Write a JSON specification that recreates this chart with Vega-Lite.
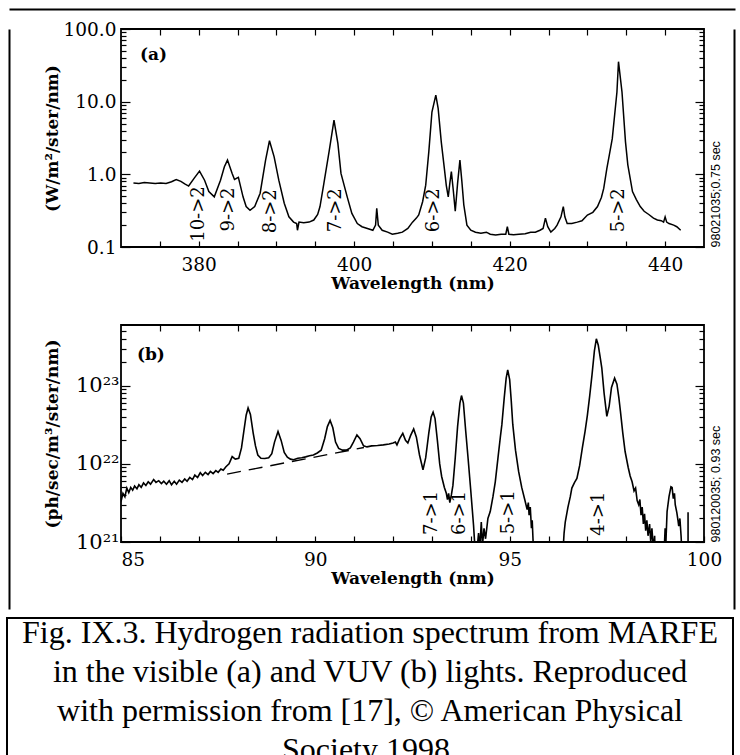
{
  "$schema": "https://vega.github.io/schema/vega-lite/v6.json",
  "background": "white",
  "padding": {"left": 6, "top": 8, "right": 0, "bottom": 0},
  "config": {
    "view": {"stroke": "black", "strokeWidth": 1.8},
    "axis": {"domain": false, "grid": false, "tickColor": "black", "tickWidth": 1.2, "labelColor": "black", "titleColor": "black", "labelOverlap": false}
  },
  "datasets": {
    "a": [
      {"wl": 371.6, "v": 0.76}, {"wl": 372.3, "v": 0.75}, {"wl": 373.0, "v": 0.77}, {"wl": 373.7, "v": 0.76}, {"wl": 374.4, "v": 0.75},
      {"wl": 375.1, "v": 0.76}, {"wl": 375.8, "v": 0.75}, {"wl": 376.5, "v": 0.79}, {"wl": 377.1, "v": 0.85}, {"wl": 377.7, "v": 0.80},
      {"wl": 378.2, "v": 0.74}, {"wl": 378.7, "v": 0.69}, {"wl": 379.4, "v": 0.88}, {"wl": 380.1, "v": 1.11}, {"wl": 380.75, "v": 0.83},
      {"wl": 381.3, "v": 0.58}, {"wl": 382.0, "v": 0.49}, {"wl": 382.8, "v": 0.83}, {"wl": 383.3, "v": 1.27}, {"wl": 383.7, "v": 1.57},
      {"wl": 384.3, "v": 1.03}, {"wl": 384.6, "v": 0.85}, {"wl": 385.1, "v": 0.91}, {"wl": 385.7, "v": 0.49}, {"wl": 386.1, "v": 0.36},
      {"wl": 386.6, "v": 0.32}, {"wl": 387.2, "v": 0.36}, {"wl": 387.9, "v": 0.55}, {"wl": 388.6, "v": 1.57}, {"wl": 389.1, "v": 2.9},
      {"wl": 389.7, "v": 1.74}, {"wl": 390.3, "v": 0.83}, {"wl": 391.0, "v": 0.40}, {"wl": 391.6, "v": 0.26}, {"wl": 392.2, "v": 0.22},
      {"wl": 392.6, "v": 0.21}, {"wl": 392.7, "v": 0.17}, {"wl": 392.9, "v": 0.22}, {"wl": 393.5, "v": 0.216}, {"wl": 394.2, "v": 0.22},
      {"wl": 394.8, "v": 0.235}, {"wl": 395.3, "v": 0.28}, {"wl": 395.6, "v": 0.36}, {"wl": 396.1, "v": 0.75}, {"wl": 396.8, "v": 2.16},
      {"wl": 397.4, "v": 5.57}, {"wl": 397.9, "v": 2.67}, {"wl": 398.3, "v": 1.03}, {"wl": 399.1, "v": 0.49}, {"wl": 399.7, "v": 0.29},
      {"wl": 400.4, "v": 0.21}, {"wl": 401.0, "v": 0.19}, {"wl": 401.7, "v": 0.18}, {"wl": 402.4, "v": 0.17}, {"wl": 402.75, "v": 0.20},
      {"wl": 402.9, "v": 0.34}, {"wl": 403.1, "v": 0.20}, {"wl": 403.6, "v": 0.17}, {"wl": 404.3, "v": 0.16}, {"wl": 404.9, "v": 0.15},
      {"wl": 405.6, "v": 0.155}, {"wl": 406.2, "v": 0.16}, {"wl": 406.9, "v": 0.18}, {"wl": 407.5, "v": 0.22}, {"wl": 408.0, "v": 0.25},
      {"wl": 408.3, "v": 0.276}, {"wl": 408.8, "v": 0.42}, {"wl": 409.2, "v": 0.71}, {"wl": 409.6, "v": 2.05}, {"wl": 410.0, "v": 7.2},
      {"wl": 410.5, "v": 12.3}, {"wl": 410.8, "v": 8.1}, {"wl": 411.2, "v": 2.8}, {"wl": 411.6, "v": 1.2}, {"wl": 411.85, "v": 0.7},
      {"wl": 412.1, "v": 0.49}, {"wl": 412.3, "v": 0.75}, {"wl": 412.5, "v": 1.09}, {"wl": 412.75, "v": 0.6}, {"wl": 413.0, "v": 0.31},
      {"wl": 413.3, "v": 0.75}, {"wl": 413.6, "v": 1.57}, {"wl": 413.85, "v": 0.8}, {"wl": 414.1, "v": 0.38}, {"wl": 414.5, "v": 0.2},
      {"wl": 415.0, "v": 0.17}, {"wl": 415.6, "v": 0.16}, {"wl": 416.3, "v": 0.155}, {"wl": 417.0, "v": 0.16}, {"wl": 417.5, "v": 0.15},
      {"wl": 418.2, "v": 0.146}, {"wl": 418.9, "v": 0.15}, {"wl": 419.5, "v": 0.15}, {"wl": 419.7, "v": 0.19}, {"wl": 419.9, "v": 0.15},
      {"wl": 420.5, "v": 0.148}, {"wl": 421.2, "v": 0.15}, {"wl": 422.0, "v": 0.152}, {"wl": 422.7, "v": 0.16}, {"wl": 423.3, "v": 0.16},
      {"wl": 423.9, "v": 0.17}, {"wl": 424.3, "v": 0.18}, {"wl": 424.6, "v": 0.25}, {"wl": 424.9, "v": 0.19}, {"wl": 425.3, "v": 0.16},
      {"wl": 425.8, "v": 0.18}, {"wl": 426.1, "v": 0.20}, {"wl": 426.6, "v": 0.26}, {"wl": 426.9, "v": 0.36}, {"wl": 427.1, "v": 0.26},
      {"wl": 427.4, "v": 0.21}, {"wl": 428.0, "v": 0.21}, {"wl": 428.7, "v": 0.22}, {"wl": 429.3, "v": 0.23}, {"wl": 430.0, "v": 0.275},
      {"wl": 430.7, "v": 0.30}, {"wl": 431.3, "v": 0.36}, {"wl": 431.8, "v": 0.48}, {"wl": 432.1, "v": 0.64}, {"wl": 432.5, "v": 1.2},
      {"wl": 432.8, "v": 1.8}, {"wl": 433.2, "v": 3.1}, {"wl": 433.8, "v": 13.6}, {"wl": 434.0, "v": 35.5}, {"wl": 434.45, "v": 13.6},
      {"wl": 434.9, "v": 2.8}, {"wl": 435.2, "v": 1.35}, {"wl": 435.8, "v": 0.58}, {"wl": 436.3, "v": 0.45}, {"wl": 436.8, "v": 0.36},
      {"wl": 437.3, "v": 0.31}, {"wl": 437.9, "v": 0.28}, {"wl": 438.5, "v": 0.25}, {"wl": 439.0, "v": 0.235}, {"wl": 439.5, "v": 0.23},
      {"wl": 439.8, "v": 0.22}, {"wl": 440.0, "v": 0.26}, {"wl": 440.2, "v": 0.22}, {"wl": 440.5, "v": 0.21}, {"wl": 441.1, "v": 0.20},
      {"wl": 441.5, "v": 0.19}, {"wl": 442.0, "v": 0.17}
    ],
    "labelsA": [
      {"wl": 380.0, "v": 0.284, "label": "10->2"},
      {"wl": 383.9, "v": 0.328, "label": "9->2"},
      {"wl": 389.3, "v": 0.31, "label": "8->2"},
      {"wl": 397.7, "v": 0.32, "label": "7->2"},
      {"wl": 410.3, "v": 0.32, "label": "6->2"},
      {"wl": 434.1, "v": 0.32, "label": "5->2"}
    ],
    "tagA": [{"wl": 372.45, "v": 43.8, "label": "(a)"}],
    "frame": [{"f": 0}],
    "b": [
      {"wl": 85.00, "v": 3.3e21}, {"wl": 85.05, "v": 4.2e21}, {"wl": 85.10, "v": 3.8e21}, {"wl": 85.15, "v": 4.9e21}, {"wl": 85.20, "v": 4.3e21},
      {"wl": 85.25, "v": 5.0e21}, {"wl": 85.30, "v": 4.6e21}, {"wl": 85.35, "v": 5.2e21}, {"wl": 85.41, "v": 4.8e21}, {"wl": 85.46, "v": 5.4e21},
      {"wl": 85.52, "v": 5.0e21}, {"wl": 85.58, "v": 5.7e21}, {"wl": 85.64, "v": 5.3e21}, {"wl": 85.70, "v": 5.9e21}, {"wl": 85.76, "v": 5.5e21},
      {"wl": 85.84, "v": 6.3e21}, {"wl": 85.90, "v": 5.8e21}, {"wl": 85.97, "v": 6.1e21}, {"wl": 86.04, "v": 5.6e21}, {"wl": 86.10, "v": 6.0e21},
      {"wl": 86.17, "v": 5.5e21}, {"wl": 86.24, "v": 6.1e21}, {"wl": 86.30, "v": 5.4e21}, {"wl": 86.37, "v": 6.0e21}, {"wl": 86.43, "v": 5.5e21},
      {"wl": 86.50, "v": 6.2e21}, {"wl": 86.57, "v": 5.8e21}, {"wl": 86.64, "v": 6.4e21}, {"wl": 86.70, "v": 6.0e21}, {"wl": 86.77, "v": 6.7e21},
      {"wl": 86.84, "v": 6.3e21}, {"wl": 86.90, "v": 7.2e21}, {"wl": 86.97, "v": 6.7e21}, {"wl": 87.04, "v": 7.7e21}, {"wl": 87.10, "v": 7.1e21},
      {"wl": 87.17, "v": 7.8e21}, {"wl": 87.24, "v": 7.3e21}, {"wl": 87.30, "v": 8.0e21}, {"wl": 87.37, "v": 7.5e21}, {"wl": 87.44, "v": 8.2e21},
      {"wl": 87.50, "v": 7.8e21}, {"wl": 87.57, "v": 8.6e21}, {"wl": 87.63, "v": 8.3e21}, {"wl": 87.70, "v": 9.2e21}, {"wl": 87.78, "v": 1.0e22},
      {"wl": 87.86, "v": 1.24e22}, {"wl": 87.94, "v": 1.15e22}, {"wl": 88.03, "v": 1.18e22}, {"wl": 88.10, "v": 1.6e22}, {"wl": 88.16, "v": 2.6e22},
      {"wl": 88.22, "v": 4.2e22}, {"wl": 88.27, "v": 5.2e22}, {"wl": 88.33, "v": 4.3e22}, {"wl": 88.40, "v": 2.5e22}, {"wl": 88.46, "v": 1.7e22},
      {"wl": 88.52, "v": 1.3e22}, {"wl": 88.60, "v": 1.18e22}, {"wl": 88.70, "v": 1.17e22}, {"wl": 88.80, "v": 1.2e22}, {"wl": 88.88, "v": 1.35e22},
      {"wl": 88.95, "v": 1.9e22}, {"wl": 89.04, "v": 2.6e22}, {"wl": 89.12, "v": 2.0e22}, {"wl": 89.20, "v": 1.4e22}, {"wl": 89.28, "v": 1.22e22},
      {"wl": 89.36, "v": 1.15e22}, {"wl": 89.44, "v": 1.13e22}, {"wl": 89.55, "v": 1.18e22}, {"wl": 89.65, "v": 1.2e22}, {"wl": 89.75, "v": 1.23e22},
      {"wl": 89.85, "v": 1.27e22}, {"wl": 89.95, "v": 1.3e22}, {"wl": 90.05, "v": 1.38e22}, {"wl": 90.15, "v": 1.5e22}, {"wl": 90.24, "v": 2.1e22},
      {"wl": 90.31, "v": 3.0e22}, {"wl": 90.38, "v": 3.6e22}, {"wl": 90.45, "v": 2.9e22}, {"wl": 90.52, "v": 1.9e22}, {"wl": 90.60, "v": 1.58e22},
      {"wl": 90.70, "v": 1.5e22}, {"wl": 90.80, "v": 1.5e22}, {"wl": 90.90, "v": 1.6e22}, {"wl": 90.98, "v": 1.9e22}, {"wl": 91.07, "v": 2.35e22},
      {"wl": 91.15, "v": 2.1e22}, {"wl": 91.24, "v": 1.7e22}, {"wl": 91.33, "v": 1.65e22}, {"wl": 91.45, "v": 1.7e22}, {"wl": 91.60, "v": 1.72e22},
      {"wl": 91.75, "v": 1.75e22}, {"wl": 91.90, "v": 1.8e22}, {"wl": 92.00, "v": 1.85e22}, {"wl": 92.06, "v": 1.9e22}, {"wl": 92.10, "v": 1.75e22},
      {"wl": 92.17, "v": 2.1e22}, {"wl": 92.25, "v": 2.46e22}, {"wl": 92.32, "v": 2.0e22}, {"wl": 92.38, "v": 1.85e22}, {"wl": 92.45, "v": 2.3e22},
      {"wl": 92.53, "v": 2.8e22}, {"wl": 92.60, "v": 2.2e22}, {"wl": 92.68, "v": 1.3e22}, {"wl": 92.77, "v": 8.4e21}, {"wl": 92.84, "v": 1.2e22},
      {"wl": 92.92, "v": 2.5e22}, {"wl": 92.98, "v": 4.0e22}, {"wl": 93.03, "v": 4.6e22}, {"wl": 93.08, "v": 3.8e22}, {"wl": 93.14, "v": 2.0e22},
      {"wl": 93.20, "v": 1.0e22}, {"wl": 93.25, "v": 6.9e21}, {"wl": 93.32, "v": 5.0e21}, {"wl": 93.37, "v": 4.2e21}, {"wl": 93.40, "v": 3.5e21},
      {"wl": 93.43, "v": 4.2e21}, {"wl": 93.46, "v": 3.2e21}, {"wl": 93.50, "v": 4.0e21}, {"wl": 93.54, "v": 5.3e21}, {"wl": 93.60, "v": 1.2e22},
      {"wl": 93.66, "v": 3.0e22}, {"wl": 93.72, "v": 6.0e22}, {"wl": 93.76, "v": 7.5e22}, {"wl": 93.81, "v": 6.0e22}, {"wl": 93.87, "v": 2.6e22},
      {"wl": 93.93, "v": 1.18e22}, {"wl": 94.00, "v": 4.5e21}, {"wl": 94.07, "v": 1.65e21}, {"wl": 94.11, "v": 8e20}, {"wl": 94.16, "v": 8e20},
      {"wl": 94.20, "v": 1.3e21}, {"wl": 94.23, "v": 8e20}, {"wl": 94.27, "v": 1.8e21}, {"wl": 94.30, "v": 9e20}, {"wl": 94.34, "v": 1.5e21},
      {"wl": 94.38, "v": 1.1e21}, {"wl": 94.44, "v": 2.0e21}, {"wl": 94.50, "v": 2.45e21}, {"wl": 94.57, "v": 3.8e21}, {"wl": 94.63, "v": 5.9e21},
      {"wl": 94.70, "v": 1.2e22}, {"wl": 94.76, "v": 2.2e22}, {"wl": 94.80, "v": 3.2e22}, {"wl": 94.86, "v": 7.0e22}, {"wl": 94.91, "v": 1.25e23},
      {"wl": 94.95, "v": 1.6e23}, {"wl": 95.00, "v": 1.2e23}, {"wl": 95.04, "v": 6.5e22}, {"wl": 95.08, "v": 3.2e22}, {"wl": 95.15, "v": 1.5e22},
      {"wl": 95.23, "v": 8.0e21}, {"wl": 95.31, "v": 5.0e21}, {"wl": 95.40, "v": 3.3e21}, {"wl": 95.45, "v": 2.6e21}, {"wl": 95.48, "v": 3.2e21},
      {"wl": 95.50, "v": 2.2e21}, {"wl": 95.53, "v": 2.8e21}, {"wl": 95.56, "v": 1.5e21}, {"wl": 95.58, "v": 1.9e21}, {"wl": 95.60, "v": 1.1e21},
      {"wl": 95.63, "v": 5e20}, {"wl": 96.35, "v": 5e20}, {"wl": 96.40, "v": 1.3e21}, {"wl": 96.43, "v": 1.8e21}, {"wl": 96.50, "v": 2.8e21},
      {"wl": 96.56, "v": 3.8e21}, {"wl": 96.60, "v": 4.9e21}, {"wl": 96.67, "v": 5.8e21}, {"wl": 96.73, "v": 6.5e21}, {"wl": 96.80, "v": 9.5e21},
      {"wl": 96.87, "v": 1.6e22}, {"wl": 96.94, "v": 2.6e22}, {"wl": 97.00, "v": 4.2e22}, {"wl": 97.06, "v": 7.5e22}, {"wl": 97.12, "v": 1.4e23},
      {"wl": 97.18, "v": 2.8e23}, {"wl": 97.23, "v": 4.0e23}, {"wl": 97.28, "v": 3.3e23}, {"wl": 97.33, "v": 2.3e23}, {"wl": 97.37, "v": 1.7e23},
      {"wl": 97.43, "v": 8.0e22}, {"wl": 97.50, "v": 4.05e22}, {"wl": 97.56, "v": 5.5e22}, {"wl": 97.62, "v": 9.5e22}, {"wl": 97.70, "v": 1.25e23},
      {"wl": 97.76, "v": 1.05e23}, {"wl": 97.81, "v": 7.0e22}, {"wl": 97.85, "v": 4.7e22}, {"wl": 97.91, "v": 2.5e22}, {"wl": 97.97, "v": 1.44e22},
      {"wl": 98.05, "v": 9.0e21}, {"wl": 98.10, "v": 7.0e21}, {"wl": 98.15, "v": 5.9e21}, {"wl": 98.20, "v": 4.5e21}, {"wl": 98.24, "v": 4.9e21},
      {"wl": 98.28, "v": 3.4e21}, {"wl": 98.32, "v": 3.0e21}, {"wl": 98.35, "v": 3.5e21}, {"wl": 98.38, "v": 2.2e21}, {"wl": 98.41, "v": 2.8e21},
      {"wl": 98.44, "v": 1.7e21}, {"wl": 98.47, "v": 2.3e21}, {"wl": 98.50, "v": 1.4e21}, {"wl": 98.53, "v": 1.9e21}, {"wl": 98.56, "v": 1.2e21},
      {"wl": 98.60, "v": 1.7e21}, {"wl": 98.63, "v": 1.0e21}, {"wl": 98.66, "v": 1.5e21}, {"wl": 98.70, "v": 8e20}, {"wl": 98.73, "v": 1.2e21},
      {"wl": 98.75, "v": 5e20}, {"wl": 98.96, "v": 5e20}, {"wl": 99.00, "v": 1.5e21}, {"wl": 99.02, "v": 1.0e21}, {"wl": 99.05, "v": 2.45e21},
      {"wl": 99.10, "v": 3.8e21}, {"wl": 99.15, "v": 5.1e21}, {"wl": 99.18, "v": 5.0e21}, {"wl": 99.21, "v": 3.6e21}, {"wl": 99.24, "v": 4.2e21},
      {"wl": 99.26, "v": 3.0e21}, {"wl": 99.30, "v": 2.4e21}, {"wl": 99.33, "v": 1.9e21}, {"wl": 99.35, "v": 1.6e21}, {"wl": 99.38, "v": 2.0e21},
      {"wl": 99.41, "v": 1.2e21}, {"wl": 99.45, "v": 5e20}
    ],
    "bspike": [{"wl": 99.59, "v": 5e20}, {"wl": 99.59, "v": 2.4e21}],
    "dash": [{"wl": 87.73, "v": 7.4e21}, {"wl": 91.25, "v": 1.62e22}],
    "labelsB": [
      {"wl": 93.0, "v": 2.35e21, "label": "7->1"},
      {"wl": 93.73, "v": 2.35e21, "label": "6->1"},
      {"wl": 94.97, "v": 2.4e21, "label": "5->1"},
      {"wl": 97.29, "v": 2.3e21, "label": "4->1"}
    ],
    "tagB": [{"wl": 85.41, "v": 2.5e23, "label": "(b)"}],
    "caption": [
      {"line": 1, "text": "Fig. IX.3. Hydrogen radiation spectrum from MARFE"},
      {"line": 2, "text": "in the visible (a) and VUV (b) lights.  Reproduced"},
      {"line": 3, "text": "with permission from [17], ©  American Physical"},
      {"line": 4, "text": "Society 1998."}
    ]
  },
  "spacing": 0.01,
  "vconcat": [
    {
      "spacing": 0,
      "hconcat": [
        {
          "width": 1,
          "height": 1,
          "view": {"stroke": null},
          "data": {"values": [{"t": ""}]},
          "mark": {"type": "text"},
          "encoding": {"text": {"field": "t"}}
        },
        {
          "bounds": "flush",
          "spacing": 78,
          "vconcat": [
            {
              "width": 583,
              "height": 218,
              "layer": [
                {
                  "data": {"name": "a"},
                  "mark": {"type": "line", "color": "black", "strokeWidth": 1.5},
                  "encoding": {
                    "x": {"field": "wl", "type": "quantitative", "scale": {"domain": [370, 445], "nice": false, "zero": false},
                      "axis": {"orient": "bottom", "values": [375, 380, 385, 390, 395, 400, 405, 410, 415, 420, 425, 430, 435, 440],
                        "labelExpr": "datum.value % 20 === 0 ? datum.label : ''", "tickSize": -6, "labelPadding": 14, "labelFlush": false,
                        "labelFont": "DejaVu Serif", "labelFontSize": 18.5, "title": "Wavelength (nm)", "titleFont": "DejaVu Serif",
                        "titleFontSize": 17, "titleFontWeight": "bold", "titlePadding": 2}},
                    "y": {"field": "v", "type": "quantitative", "scale": {"type": "log", "domain": [0.1, 100], "nice": false},
                      "axis": {"orient": "left", "values": [0.1, 0.2, 0.3, 0.4, 0.5, 0.6, 0.7, 0.8, 0.9, 1, 2, 3, 4, 5, 6, 7, 8, 9, 10, 20, 30, 40, 50, 60, 70, 80, 90, 100],
                        "labelExpr": "abs(log(datum.value)/LN10 - round(log(datum.value)/LN10)) < 0.001 ? format(datum.value, '.1f') : ''",
                        "tickSize": {"condition": {"test": "abs(log(datum.value)/LN10 - round(log(datum.value)/LN10)) < 0.001", "value": -9}, "value": -5},
                        "labelPadding": 14, "labelFont": "DejaVu Serif", "labelFontSize": 18.5, "minExtent": 100, "maxExtent": 100,
                        "title": "(W/m²/ster/nm)", "titleX": -69, "titleBaseline": "middle", "titleAngle": 270, "titleFont": "DejaVu Serif",
                        "titleFontSize": 17, "titleFontWeight": "bold"}}
                  }
                },
                {
                  "data": {"name": "labelsA"},
                  "mark": {"type": "text", "angle": 270, "font": "DejaVu Serif", "fontSize": 18, "align": "center", "baseline": "middle", "color": "black"},
                  "encoding": {
                    "x": {"field": "wl", "type": "quantitative", "scale": {"domain": [370, 445], "nice": false, "zero": false},
                      "axis": {"orient": "top", "values": [375, 380, 385, 390, 395, 400, 405, 410, 415, 420, 425, 430, 435, 440], "labels": false, "tickSize": -6, "title": null}},
                    "y": {"field": "v", "type": "quantitative", "scale": {"type": "log", "domain": [0.1, 100], "nice": false},
                      "axis": {"orient": "right", "values": [0.1, 0.2, 0.3, 0.4, 0.5, 0.6, 0.7, 0.8, 0.9, 1, 2, 3, 4, 5, 6, 7, 8, 9, 10, 20, 30, 40, 50, 60, 70, 80, 90, 100],
                        "labels": false,
                        "tickSize": {"condition": {"test": "abs(log(datum.value)/LN10 - round(log(datum.value)/LN10)) < 0.001", "value": -9}, "value": -5},
                        "title": "98021035;0.75 sec", "titleFont": "Liberation Sans", "titleFontSize": 12.5, "titleFontWeight": "normal",
                        "titleAngle": 270, "titleAnchor": "start", "titleAlign": "left", "titleBaseline": "top", "titlePadding": 5}},
                    "text": {"field": "label"}
                  }
                },
                {
                  "data": {"name": "tagA"},
                  "mark": {"type": "text", "font": "DejaVu Serif", "fontSize": 17, "fontWeight": "bold", "align": "left", "baseline": "middle", "color": "black"},
                  "encoding": {
                    "x": {"field": "wl", "type": "quantitative", "scale": {"domain": [370, 445], "nice": false, "zero": false}, "axis": null},
                    "y": {"field": "v", "type": "quantitative", "scale": {"type": "log", "domain": [0.1, 100], "nice": false}, "axis": null},
                    "text": {"field": "label"}
                  }
                },
                {
                  "data": {"name": "frame"},
                  "mark": {"type": "text"},
                  "encoding": {
                    "x": {"field": "f", "type": "quantitative", "scale": {"domain": [0, 1], "range": [-112, 614], "nice": false, "zero": false},
                      "axis": {"orient": "top", "offset": 20, "domain": true, "domainColor": "black", "domainWidth": 2, "ticks": false, "labels": false, "title": null}},
                    "y": {"field": "f", "type": "quantitative", "scale": {"domain": [0, 1], "range": [580, 0], "nice": false, "zero": false},
                      "axis": {"orient": "left", "offset": 112, "domain": true, "domainColor": "black", "domainWidth": 2, "ticks": false, "labels": false, "title": null}},
                    "text": {"value": ""}
                  }
                },
                {
                  "data": {"name": "frame"},
                  "mark": {"type": "text"},
                  "encoding": {
                    "y": {"field": "f", "type": "quantitative", "scale": {"domain": [0, 1], "range": [580, 0], "nice": false, "zero": false},
                      "axis": {"orient": "right", "offset": 30, "domain": true, "domainColor": "black", "domainWidth": 2, "ticks": false, "labels": false, "title": null}},
                    "text": {"value": ""}
                  }
                }
              ],
              "resolve": {"scale": {"x": "independent", "y": "independent"}, "axis": {"x": "independent", "y": "independent"}}
            },
            {
              "width": 583,
              "height": 217,
              "layer": [
                {
                  "data": {"name": "b"},
                  "mark": {"type": "line", "color": "black", "strokeWidth": 1.6, "clip": true},
                  "encoding": {
                    "x": {"field": "wl", "type": "quantitative", "scale": {"domain": [85, 100], "nice": false, "zero": false},
                      "axis": {"orient": "bottom", "values": [85, 86, 87, 88, 89, 90, 91, 92, 93, 94, 95, 96, 97, 98, 99, 100],
                        "labelExpr": "datum.value % 5 === 0 ? datum.label : ''", "tickSize": -6, "labelPadding": 14, "labelFlush": false,
                        "labelAlign": {"condition": {"test": "datum.value === 85", "value": "left"}, "value": "center"},
                        "labelFont": "DejaVu Serif", "labelFontSize": 18.5, "title": "Wavelength (nm)", "titleFont": "DejaVu Serif",
                        "titleFontSize": 17, "titleFontWeight": "bold", "titlePadding": 2}},
                    "y": {"field": "v", "type": "quantitative", "scale": {"type": "log", "domain": [1e21, 6e23], "nice": false},
                      "axis": {"orient": "left", "values": [1e21, 2e21, 3e21, 4e21, 5e21, 6e21, 7e21, 8e21, 9e21, 1e22, 2e22, 3e22, 4e22, 5e22, 6e22, 7e22, 8e22, 9e22, 1e23, 2e23, 3e23, 4e23, 5e23],
                        "labelExpr": "abs(log(datum.value)/LN10 - round(log(datum.value)/LN10)) < 0.001 ? '10' + (round(log(datum.value)/LN10) == 21 ? '²¹' : round(log(datum.value)/LN10) == 22 ? '²²' : '²³') : ''",
                        "tickSize": {"condition": {"test": "abs(log(datum.value)/LN10 - round(log(datum.value)/LN10)) < 0.001", "value": -9}, "value": -5},
                        "labelPadding": 11, "labelFont": "DejaVu Serif", "labelFontSize": 21, "minExtent": 100, "maxExtent": 100,
                        "title": "(ph/sec/m³/ster/nm)", "titleX": -69, "titleBaseline": "middle", "titleAngle": 270, "titleFont": "DejaVu Serif",
                        "titleFontSize": 17, "titleFontWeight": "bold"}}
                  }
                },
                {
                  "data": {"name": "bspike"},
                  "mark": {"type": "line", "color": "black", "strokeWidth": 1.6, "clip": true},
                  "encoding": {
                    "x": {"field": "wl", "type": "quantitative", "scale": {"domain": [85, 100], "nice": false, "zero": false}, "axis": null},
                    "y": {"field": "v", "type": "quantitative", "scale": {"type": "log", "domain": [1e21, 6e23], "nice": false}, "axis": null}
                  }
                },
                {
                  "data": {"name": "dash"},
                  "mark": {"type": "line", "color": "black", "strokeWidth": 1.4, "strokeDash": [14, 8]},
                  "encoding": {
                    "x": {"field": "wl", "type": "quantitative", "scale": {"domain": [85, 100], "nice": false, "zero": false}, "axis": null},
                    "y": {"field": "v", "type": "quantitative", "scale": {"type": "log", "domain": [1e21, 6e23], "nice": false}, "axis": null}
                  }
                },
                {
                  "data": {"name": "labelsB"},
                  "mark": {"type": "text", "angle": 270, "font": "DejaVu Serif", "fontSize": 18, "align": "center", "baseline": "middle", "color": "black"},
                  "encoding": {
                    "x": {"field": "wl", "type": "quantitative", "scale": {"domain": [85, 100], "nice": false, "zero": false},
                      "axis": {"orient": "top", "values": [86, 87, 88, 89, 90, 91, 92, 93, 94, 95, 96, 97, 98, 99], "labels": false, "tickSize": -6, "title": null}},
                    "y": {"field": "v", "type": "quantitative", "scale": {"type": "log", "domain": [1e21, 6e23], "nice": false},
                      "axis": {"orient": "right", "values": [1e21, 2e21, 3e21, 4e21, 5e21, 6e21, 7e21, 8e21, 9e21, 1e22, 2e22, 3e22, 4e22, 5e22, 6e22, 7e22, 8e22, 9e22, 1e23, 2e23, 3e23, 4e23, 5e23],
                        "labels": false,
                        "tickSize": {"condition": {"test": "abs(log(datum.value)/LN10 - round(log(datum.value)/LN10)) < 0.001", "value": -9}, "value": -5},
                        "title": "980120035; 0.93 sec", "titleFont": "Liberation Sans", "titleFontSize": 12.5, "titleFontWeight": "normal",
                        "titleAngle": 270, "titleAnchor": "start", "titleAlign": "left", "titleBaseline": "top", "titlePadding": 5}},
                    "text": {"field": "label"}
                  }
                },
                {
                  "data": {"name": "tagB"},
                  "mark": {"type": "text", "font": "DejaVu Serif", "fontSize": 17, "fontWeight": "bold", "align": "left", "baseline": "middle", "color": "black"},
                  "encoding": {
                    "x": {"field": "wl", "type": "quantitative", "scale": {"domain": [85, 100], "nice": false, "zero": false}, "axis": null},
                    "y": {"field": "v", "type": "quantitative", "scale": {"type": "log", "domain": [1e21, 6e23], "nice": false}, "axis": null},
                    "text": {"field": "label"}
                  }
                }
              ],
              "resolve": {"axis": {"x": "independent", "y": "independent"}}
            }
          ]
        }
      ]
    },
    {
      "width": 726,
      "height": 160,
      "view": {"stroke": "black", "strokeWidth": 2},
      "data": {"name": "caption"},
      "mark": {"type": "text", "font": "Liberation Serif", "fontSize": 32, "baseline": "alphabetic", "align": "center", "color": "black"},
      "encoding": {
        "y": {"field": "line", "type": "quantitative", "scale": {"domain": [0.359, 4.462], "reverse": true, "nice": false, "zero": false}, "axis": null},
        "text": {"field": "text"}
      }
    }
  ]
}
